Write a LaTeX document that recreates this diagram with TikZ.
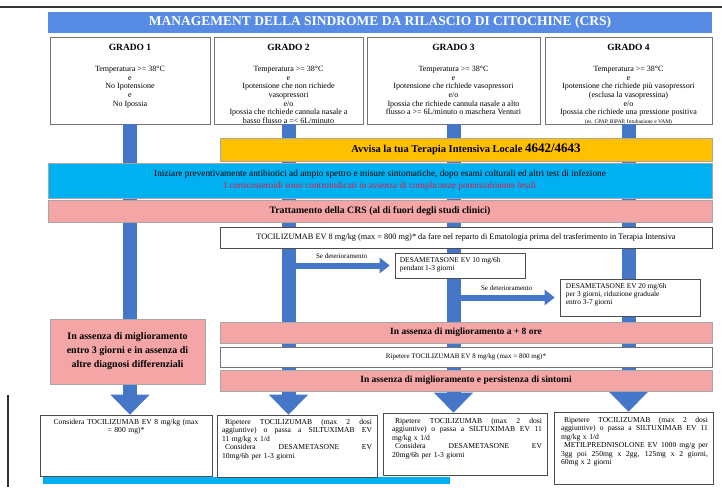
\documentclass[tikz,border=0pt]{standalone}
\usepackage{fontspec}
\setmainfont{Liberation Serif}
\usepackage{xcolor}
\usepackage{tikz}
\usetikzlibrary{arrows.meta,positioning}
\definecolor{crsblue}{RGB}{88,140,228}
\definecolor{shaftblue}{RGB}{70,118,200}
\definecolor{crsgold}{RGB}{255,192,0}
\definecolor{crscyan}{RGB}{0,176,240}
\definecolor{crspink}{RGB}{244,166,166}
\definecolor{crsred}{RGB}{214,30,72}
\newcommand{\crsfont}[2]{\fontsize{#1}{#2}\selectfont}
\newcommand{\jline}[1]{\makebox[\hsize][s]{\spaceskip=0pt\xspaceskip=0pt\relax #1}\\}
\newcommand{\gtitle}[1]{{\crsfont{9.5}{10}\bfseries #1}\\[12.5pt]}

\begin{document}
\begin{tikzpicture}[x=1pt, y=-1pt,
    gradebox/.style={draw=black!55, line width=0.7pt, fill=white, minimum height=87pt, inner sep=0pt},
    gradetxt/.style={align=center, inner sep=0pt, font=\crsfont{8}{8.6}},
    band/.style={draw=black!35, line width=0.5pt, inner sep=0pt, align=center},
    notebox/.style={draw=black!70, line width=0.6pt, fill=white, inner sep=0pt},
    notetxt/.style={align=left, inner sep=0pt, font=\crsfont{7.6}{8.5}},
    shaft/.style={line width=14pt, draw=shaftblue, -{Triangle[width=38pt, length=20pt]}},
    sidearrow/.style={line width=6pt, draw=shaftblue, -{Triangle[width=15pt, length=10pt]}, shorten >=5pt},
    sidelabel/.style={font=\crsfont{7}{8}, inner sep=1pt}
]
    \useasboundingbox (0,0) rectangle (722,487);
    \draw[line width=1.2pt, black!80] (0,7) -- (722,7);
    \draw[line width=1.2pt, black!80] (8,395) -- (8,487);
    \fill[crscyan] (43,477) rectangle (450,484);

    % title and grades
    \node[fill=crsblue, minimum width=664pt, minimum height=21pt, inner sep=0pt, text=white,
          font=\crsfont{13.5}{15}\bfseries] (title) at (380,22.5)
          {MANAGEMENT DELLA SINDROME DA RILASCIO DI CITOCHINE (CRS)};

    \node[gradebox, minimum width=160pt] (g1) at (130,80.5) {};
    \node[gradebox, minimum width=149pt] (g2) at (288.5,80.5) {};
    \node[gradebox, minimum width=173pt] (g3) at (453.5,80.5) {};
    \node[gradebox, minimum width=167pt] (g4) at (628.5,80.5) {};

    \node[gradetxt, below=7.5pt of g1.north] (g1t) {\gtitle{GRADO 1}
        Temperatura >= 38°C\\ e\\ No Ipotensione\\ e\\ No Ipossia};
    \node[gradetxt, below=7.5pt of g2.north] (g2t) {\gtitle{GRADO 2}
        Temperatura >= 38°C\\ e\\ Ipotensione che non richiede\\ vasopressori\\ e/o\\
        Ipossia che richiede cannula nasale a\\ basso flusso a =< 6L/minuto};
    \node[gradetxt, below=7.5pt of g3.north] (g3t) {\gtitle{GRADO 3}
        Temperatura >= 38°C\\ e\\ Ipotensione che richiede vasopressori\\ e/o\\
        Ipossia che richiede cannula nasale a alto\\ flusso a >= 6L/minuto o maschera Venturi};
    \node[gradetxt, below=7.5pt of g4.north] (g4t) {\gtitle{GRADO 4}
        Temperatura >= 38°C\\ e\\ Ipotensione che richiede più vasopressori\\ (esclusa la vasopressina)\\ e/o\\
        Ipossia che richiede una pressione positiva\\ {\crsfont{5.5}{7}(es. CPAP, BiPAP, Intubazione e VAM)}};

    % final boxes
    \node[notebox, minimum width=172pt, minimum height=61pt] (b1) at (126,445.5) {};
    \node[notebox, minimum width=160pt, minimum height=62pt] (b2) at (297,446) {};
    \node[notebox, minimum width=164pt, minimum height=62pt] (b3) at (465,444) {};
    \node[notebox, minimum width=159pt, minimum height=72pt] (b4) at (633.5,448) {};

    \node[notetxt, align=center, text width=164pt, below=4pt of b1.north] (b1t)
        {Considera TOCILIZUMAB EV 8 mg/kg (max\\ = 800 mg)*};
    \node[notetxt, text width=150pt, below=4pt of b2.north] (b2t)
        {\jline{\hspace{3pt}Ripetere TOCILIZUMAB (max 2 dosi}\jline{aggiuntive) o passa a SILTUXIMAB EV}
         11 mg/kg x 1/d\\ \jline{\hspace{3pt}Considera DESAMETASONE EV}10mg/6h per 1-3 giorni};
    \node[notetxt, text width=150pt, below=5pt of b3.north, xshift=2pt] (b3t)
        {\jline{\hspace{3pt}Ripetere TOCILIZUMAB (max 2 dosi}\jline{aggiuntive) o passa a SILTUXIMAB EV 11}
         mg/kg x 1/d\\ \jline{\hspace{3pt}Considera DESAMETASONE EV}20mg/6h per 1-3 giorni};
    \node[notetxt, text width=147pt, below=5pt of b4.north, xshift=1pt] (b4t)
        {\jline{\hspace{3pt}Ripetere TOCILIZUMAB (max 2 dosi}\jline{aggiuntive) o passa a SILTUXIMAB EV 11}
         mg/kg x 1/d\\ \jline{\hspace{3pt}METILPREDNISOLONE EV 1000 mg/g per}\jline{3gg poi 250mg x 2gg, 125mg x 2 giorni,}
         60mg x 2 giorni};

    % grade arrows
    \foreach \g/\b in {g1/b1, g2/b2, g3/b3, g4/b4}
        \draw[shaft] (\g.south) -- (\g.south |- \b.north);

    % bands across the columns
    \node[band, fill=crsgold, minimum width=492pt, minimum height=23pt] (avv) at (466,149.5)
        {\crsfont{10.5}{12}\bfseries Avvisa la tua Terapia Intensiva Locale {\crsfont{13}{13}4642/4643}};
    \node[band, fill=crscyan, minimum width=664pt, minimum height=35pt, font=\crsfont{9.3}{12}] (abx) at (380,180.5)
        {Iniziare preventivamente antibiotici ad ampio spettro e misure sintomatiche, dopo esami colturali ed altri test di infezione\\
         \textcolor{crsred}{I corticosteroidi sono controindicati in assenza di complicanze potenzialmente letali}};
    \node[band, fill=crspink, minimum width=664pt, minimum height=22pt, font=\crsfont{9.8}{11}\bfseries] (tratt) at (380,211)
        {Trattamento della CRS (al di fuori degli studi clinici)};
    \node[band, draw=black!70, fill=white, minimum width=492pt, minimum height=21pt, font=\crsfont{8.3}{10}] (toci) at (466,237.5)
        {TOCILIZUMAB EV 8 mg/kg (max = 800 mg)* da fare nel reparto di Ematologia prima del trasferimento in Terapia Intensiva};

    \node[notebox, minimum width=130pt, minimum height=25pt] (d10) at (460,265.5) {};
    \node[notetxt, font=\crsfont{7.4}{8.4}, below right=4pt and 5pt of d10.north west] (d10t)
        {DESAMETASONE EV 10 mg/6h\\ pendant 1-3 giorni};
    \node[notebox, minimum width=140pt, minimum height=37pt] (d20) at (630,297.5) {};
    \node[notetxt, font=\crsfont{7.4}{8.4}, below right=4pt and 6pt of d20.north west] (d20t)
        {DESAMETASONE EV 20 mg/6h\\ per 3 giorni, riduzione graduale\\ entro 3-7 giorni};

    \node[band, fill=crspink, minimum width=155pt, minimum height=65pt, font=\crsfont{10}{14}\bfseries] (noimp) at (127.5,351.5)
        {In assenza di miglioramento\\ entro 3 giorni e in assenza di\\ altre diagnosi differenziali};
    \node[band, fill=crspink, minimum width=492pt, minimum height=21pt, font=\crsfont{9.5}{11}\bfseries] (ore8) at (466,332.5)
        {In assenza di miglioramento a + 8 ore};
    \node[band, draw=black!55, fill=white, minimum width=492pt, minimum height=20pt, font=\crsfont{7}{9}] (rip) at (466,357)
        {Ripetere TOCILIZUMAB EV 8 mg/kg (max = 800 mg)*};
    \node[band, fill=crspink, minimum width=492pt, minimum height=21pt, font=\crsfont{9.5}{11}\bfseries] (pers) at (466,380.5)
        {In assenza di miglioramento e persistenza di sintomi};

    % worsening branches
    \draw[sidearrow] (g2.south |- d10.west) -- node[sidelabel, above=3pt] (sd1) {Se deterioramento} (d10.west);
    \draw[sidearrow] (g3.south |- d20.west) -- node[sidelabel, above=3pt] (sd2) {Se deterioramento} (d20.west);
\end{tikzpicture}
\end{document}
